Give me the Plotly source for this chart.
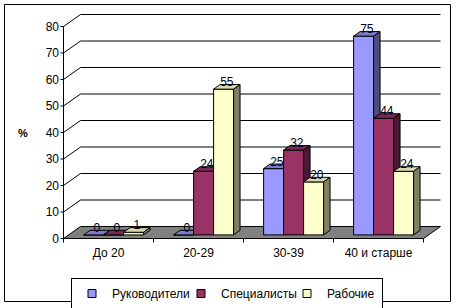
import plotly.graph_objects as go

# ---------------- data ----------------
categories = ["До 20", "20-29", "30-39", "40 и старше"]
series_names = ["Руководители", "Специалисты", "Рабочие"]
rukovoditeli = [0, 0, 25, 75]
specialisty = [0, 24, 32, 44]
rabochie = [1, 55, 20, 24]
y_ticks = [0, 10, 20, 30, 40, 50, 60, 70, 80]
y_title = "%"

series_values = [rukovoditeli, specialisty, rabochie]

# ---------------- style ----------------
front_colors = ["#9999FF", "#993366", "#FFFFCC"]
top_colors = ["#7a7acc", "#7a2952", "#d9d9ad"]
side_colors = ["#4d4d80", "#4d1a33", "#808066"]
legend_widths = [64, 61, 50]
floor_color = "#808080"
FONT = "Liberation Sans, Arial, sans-serif"

# pseudo-3D geometry (data units)
DX = 17 / 90.0          # wall depth along x
DY = 12 / 2.65          # wall depth along y
BAR_W = 20 / 90.0
GAP = 30 / 90.0
F1, F2 = 0.30, 0.68     # bar front/back depth fractions
n_cat = len(categories)
x_left = -0.5
x_right = n_cat - 0.5
y_max = y_ticks[-1]

fig = go.Figure()

# back wall gridlines (with diagonal from the front axis)
gx, gy = [], []
for v in y_ticks[1:]:
    gx += [x_left, x_left + DX, x_right + DX, None]
    gy += [v, v + DY, v + DY, None]
fig.add_trace(go.Scatter(x=gx, y=gy, mode="lines", line=dict(color="black", width=1),
                         showlegend=False, hoverinfo="skip"))

# floor
fig.add_trace(go.Scatter(x=[x_left, x_left + DX, x_right + DX, x_right, x_left],
                         y=[0, DY, DY, 0, 0], mode="lines", fill="toself",
                         fillcolor=floor_color, line=dict(color="black", width=1),
                         showlegend=False, hoverinfo="skip"))

fx1, fy1 = F1 * DX, F1 * DY
fx2, fy2 = F2 * DX, F2 * DY

lab_x, lab_y, lab_t = [], [], []
for s, vals in enumerate(series_values):
    fxs, fys, txs, tys, sxs, sys_ = [], [], [], [], [], []
    for i, v in enumerate(vals):
        xl = i - 0.5 + GAP / 2 + s * BAR_W
        xr = xl + BAR_W
        # front
        fxs += [xl + fx1, xr + fx1, xr + fx1, xl + fx1, xl + fx1, None]
        fys += [fy1, fy1, v + fy1, v + fy1, fy1, None]
        # top
        txs += [xl + fx1, xr + fx1, xr + fx2, xl + fx2, xl + fx1, None]
        tys += [v + fy1, v + fy1, v + fy2, v + fy2, v + fy1, None]
        # side
        sxs += [xr + fx1, xr + fx2, xr + fx2, xr + fx1, xr + fx1, None]
        sys_ += [fy1, fy2, v + fy2, v + fy1, fy1, None]
        lab_x.append((xl + xr) / 2 + (fx1 + fx2) / 2)
        lab_y.append(v + fy2 + 0.6)
        lab_t.append(str(v))
    for xs, ys, col in [(fxs, fys, front_colors[s]), (txs, tys, top_colors[s]),
                        (sxs, sys_, side_colors[s])]:
        fig.add_trace(go.Scatter(x=xs, y=ys, mode="lines", fill="toself", fillcolor=col,
                                 line=dict(color="black", width=1),
                                 showlegend=False, hoverinfo="skip"))

# front y axis line with ticks, x tick marks
ax, ay = [x_left, x_left, None], [0, y_max, None]
for v in y_ticks:
    ax += [x_left - 3 / 90.0, x_left, None]
    ay += [v, v, None]
for k in range(n_cat + 1):
    ax += [x_left + k, x_left + k, None]
    ay += [0, -1.5, None]
fig.add_trace(go.Scatter(x=ax, y=ay, mode="lines", line=dict(color="black", width=1),
                         showlegend=False, hoverinfo="skip"))

# data labels
fig.add_trace(go.Scatter(x=lab_x, y=lab_y, mode="text", text=lab_t,
                         textposition="middle center",
                         textfont=dict(family=FONT, size=12, color="#000020"),
                         showlegend=False, hoverinfo="skip", cliponaxis=False))

# legend entries
for s, name in enumerate(series_names):
    fig.add_trace(go.Scatter(x=[None], y=[None], mode="markers", name=name,
                             legendwidth=legend_widths[s],
                             marker=dict(symbol="square", size=8, color=front_colors[s],
                                         line=dict(color="black", width=1))))

# layout geometry (pixels)
L, R, T, B = 60, 13, 10, 64
W, H = 456, 308
pw, ph = W - L - R, H - T - B
x0 = x_left - 3.5 / 90.0
x1 = x0 + pw / 90.0
y0 = -(244 - 238.5) / 2.65
y1 = (238.5 - T) / 2.65

fig.update_layout(
    width=W, height=H,
    margin=dict(l=L, r=R, t=T, b=B),
    paper_bgcolor="white", plot_bgcolor="white",
    font=dict(family=FONT, size=12, color="black"),
    xaxis=dict(range=[x0, x1], showgrid=False, zeroline=False, showline=False,
               tickvals=list(range(n_cat)), ticktext=categories, ticks="",
               tickfont=dict(size=12), fixedrange=True),
    yaxis=dict(range=[y0, y1], showgrid=False, zeroline=False, showline=False,
               tickvals=y_ticks, ticks="", tickfont=dict(size=12), fixedrange=True),
    legend=dict(orientation="h", xref="container", yref="container",
                x=227 / W, xanchor="center", y=1 - 278 / H, yanchor="top",
                bordercolor="black", borderwidth=1,
                bgcolor="white", font=dict(size=12), itemwidth=30, tracegroupgap=0),
    showlegend=True,
    annotations=[dict(text="<b>" + y_title + "</b>", x=(23 - L) / pw, y=(244 - 133) / ph,
                      xref="paper", yref="paper", showarrow=False,
                      font=dict(size=11), xanchor="center", yanchor="middle")],
    shapes=[dict(type="rect", xref="paper", yref="paper",
                 x0=(4.5 - L) / pw, x1=(450.5 - L) / pw,
                 y0=(244 - 301.5) / ph, y1=(244 - 4.5) / ph,
                 line=dict(color="black", width=1), fillcolor="rgba(0,0,0,0)")],
)

fig.write_html("out.html")
